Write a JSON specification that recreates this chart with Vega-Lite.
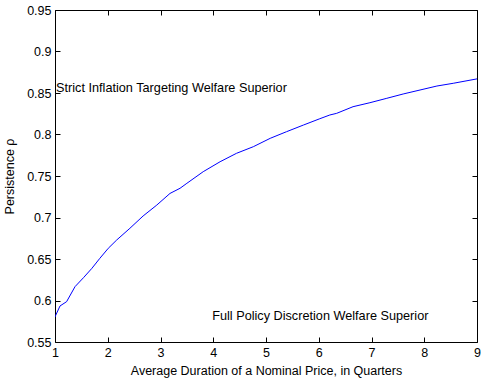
{
  "$schema": "https://vega.github.io/schema/vega-lite/v6.json",
  "autosize": {"type": "none"},
  "width": 422,
  "height": 332,
  "padding": {"left": 55, "top": 10, "right": 6, "bottom": 37},
  "background": "white",
  "config": {
    "view": {"stroke": "black", "strokeWidth": 1},
    "font": "Liberation Sans",
    "axis": {
      "grid": false,
      "domain": false,
      "tickColor": "black",
      "tickWidth": 1,
      "labelColor": "black",
      "titleColor": "black",
      "labelFont": "Liberation Sans",
      "titleFont": "Liberation Sans",
      "labelFontSize": 12.5,
      "titleFontSize": 12.5,
      "titleFontWeight": "normal",
      "labelFlush": false,
      "labelOverlap": false
    }
  },
  "datasets": {
    "curve": [
      {"d": 1.0, "p": 0.580},
      {"d": 1.01, "p": 0.5817},
      {"d": 1.095, "p": 0.5934},
      {"d": 1.22, "p": 0.5986},
      {"d": 1.38, "p": 0.6167},
      {"d": 1.54, "p": 0.6275},
      {"d": 1.70, "p": 0.6388},
      {"d": 1.85, "p": 0.6508},
      {"d": 2.01, "p": 0.6629},
      {"d": 2.17, "p": 0.6729},
      {"d": 2.42, "p": 0.687},
      {"d": 2.67, "p": 0.7018},
      {"d": 2.93, "p": 0.715},
      {"d": 3.18, "p": 0.729},
      {"d": 3.37, "p": 0.7352},
      {"d": 3.50, "p": 0.7412},
      {"d": 3.81, "p": 0.7552},
      {"d": 4.13, "p": 0.7672},
      {"d": 4.44, "p": 0.7773},
      {"d": 4.76, "p": 0.7853},
      {"d": 5.08, "p": 0.7954},
      {"d": 5.39, "p": 0.8034},
      {"d": 5.71, "p": 0.8114},
      {"d": 6.02, "p": 0.8190},
      {"d": 6.21, "p": 0.8235},
      {"d": 6.34, "p": 0.8255},
      {"d": 6.65, "p": 0.8335},
      {"d": 6.97, "p": 0.8383},
      {"d": 7.29, "p": 0.8436},
      {"d": 7.60, "p": 0.8488},
      {"d": 7.92, "p": 0.8536},
      {"d": 8.24, "p": 0.8584},
      {"d": 8.55, "p": 0.8617},
      {"d": 9.0, "p": 0.8670}
    ],
    "labels": [
      {"d": 1.02, "p": 0.856, "t": "Strict Inflation Targeting Welfare Superior"},
      {"d": 3.98, "p": 0.581, "t": "Full Policy Discretion Welfare Superior"}
    ]
  },
  "resolve": {"axis": {"x": "independent", "y": "independent"}},
  "layer": [
    {
      "data": {"name": "curve"},
      "mark": {"type": "line", "color": "#0000ff", "strokeWidth": 1, "clip": true},
      "encoding": {
        "x": {
          "field": "d", "type": "quantitative",
          "scale": {"domain": [1, 9], "nice": false, "zero": false},
          "axis": {"orient": "bottom", "title": "Average Duration of a Nominal Price, in Quarters", "values": [1,2,3,4,5,6,7,8,9], "ticks": false, "labelPadding": 4, "titlePadding": 6}
        },
        "y": {
          "field": "p", "type": "quantitative",
          "scale": {"domain": [0.55, 0.95], "nice": false, "zero": false},
          "axis": {"orient": "left", "title": "Persistence ρ", "values": [0.55,0.6,0.65,0.7,0.75,0.8,0.85,0.9,0.95], "format": ".2~f", "ticks": false, "labelPadding": 4, "titlePadding": 10}
        }
      }
    },
    {
      "data": {"name": "labels"},
      "mark": {"type": "text", "align": "left", "baseline": "middle", "fontSize": 12.7, "font": "Liberation Sans", "color": "black"},
      "encoding": {
        "x": {"field": "d", "type": "quantitative", "axis": {"orient": "bottom", "offset": -5, "tickSize": 5, "labels": false, "title": null, "values": [1,2,3,4,5,6,7,8,9]}},
        "y": {"field": "p", "type": "quantitative", "axis": {"orient": "left", "offset": -5, "tickSize": 5, "labels": false, "title": null, "values": [0.55,0.6,0.65,0.7,0.75,0.8,0.85,0.9,0.95]}},
        "text": {"field": "t"}
      }
    },
    {
      "data": {"name": "curve"},
      "mark": {"type": "line", "opacity": 0},
      "encoding": {
        "x": {"field": "d", "type": "quantitative", "axis": {"orient": "top", "offset": -5, "tickSize": 5, "labels": false, "title": null, "values": [1,2,3,4,5,6,7,8,9]}},
        "y": {"field": "p", "type": "quantitative", "axis": {"orient": "right", "offset": -5, "tickSize": 5, "labels": false, "title": null, "values": [0.55,0.6,0.65,0.7,0.75,0.8,0.85,0.9,0.95]}}
      }
    }
  ]
}
